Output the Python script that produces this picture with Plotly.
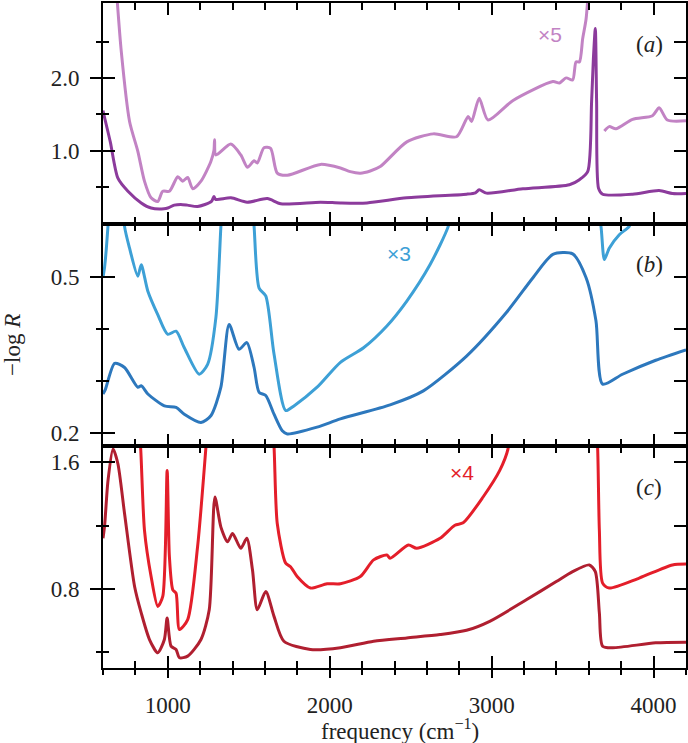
import plotly.graph_objects as go

# ---------------- data (values as displayed on each panel) ----------------
freq_major = [1000, 2000, 3000, 4000]
freq_minor = [600, 800, 1200, 1400, 1600, 1800, 2200, 2400, 2600, 2800,
              3200, 3400, 3600, 3800, 4200]

# panel (a)
a_base_f = [600, 608, 645, 692, 754, 836, 897, 977, 1000, 1040, 1080, 1121, 1184, 1270, 1285, 1295,
            1390, 1490, 1615, 1697, 1943, 2066, 2230, 2476, 2845, 2900, 2923, 2968, 3193,
            3480, 3542, 3593, 3617, 3628, 3640, 3648, 3660, 3685, 3870, 4034, 4116, 4200]
a_base_v = [1.55, 1.47, 1.12, 0.62, 0.44, 0.28, 0.21, 0.20, 0.21, 0.25, 0.26, 0.25, 0.23, 0.30, 0.37, 0.33,
            0.35, 0.29, 0.34, 0.27, 0.29, 0.28, 0.28, 0.35, 0.40, 0.42, 0.46, 0.415, 0.475,
            0.53, 0.60, 0.71, 1.67, 2.26, 2.68, 1.67, 0.48, 0.40, 0.40, 0.45, 0.41, 0.41]

a_x5_f = [680, 713, 764, 815, 856, 897, 938, 969, 1010, 1062, 1092, 1123, 1154, 1205, 1266, 1285,
          1289, 1297, 1389, 1451, 1492, 1533, 1553, 1594, 1635, 1676, 1738, 1943, 2066, 2127,
          2189, 2250, 2312, 2476, 2640, 2783, 2855, 2876, 2923, 2978, 3132, 3378, 3419, 3460,
          3500, 3521, 3542, 3562, 3583, 3600, None, 3696, 3726, 3767, 3870, 3993, 4034, 4085, 4200]
a_x5_v = [3.3, 2.36, 1.40, 0.99, 0.58, 0.35, 0.30, 0.44, 0.44, 0.64, 0.58, 0.63, 0.475, 0.58, 0.85, 1.0,
          1.15, 0.94, 1.09, 0.94, 0.77, 0.86, 0.83, 1.04, 1.03, 0.69, 0.66, 0.81, 0.76, 0.71,
          0.69, 0.72, 0.78, 1.12, 1.23, 1.19, 1.47, 1.40, 1.72, 1.42, 1.69, 1.95, 1.93, 2.00,
          1.97, 2.22, 2.22, 2.54, 2.81, 3.3, None, 1.27, 1.33, 1.30, 1.43, 1.48, 1.59, 1.42, 1.41]

# panel (b)
b_base_f = [600, 615, 672, 733, 815, 836, 877, 979, 1051, 1102, 1205, 1266, 1328, 1379, 1440, 1488,
            1533, 1564, 1605, 1656, 1707, 1738, 1922, 2066, 2373, 2578, 2845, 3091, 3255, 3378,
            3500, 3583, 3644, 3685, 3808, 4013, 4200]
b_base_v = [0.275, 0.284, 0.334, 0.326, 0.288, 0.291, 0.275, 0.252, 0.249, 0.236, 0.220, 0.233, 0.288,
            0.409, 0.361, 0.374, 0.326, 0.278, 0.272, 0.236, 0.204, 0.198, 0.211, 0.227, 0.254,
            0.281, 0.348, 0.432, 0.499, 0.544, 0.545, 0.499, 0.416, 0.294, 0.313, 0.340, 0.360]

b_x3_f = [600, 610, 631, 645, 720, 733, 764, 815, 836, 877, 938, 1000, 1051, 1102, 1194, 1246, 1297,
          1328, 1345, 1515, 1533, 1564, 1605, 1656, 1728, 1779, 1922, 2066, 2209, 2353, 2476,
          2619, 2732, 2760, 3650, 3675, 3696, 3726, 3788, 3849, 3870]
b_x3_v = [0.50, 0.52, 0.60, 0.68, 0.68, 0.598, 0.556, 0.502, 0.524, 0.473, 0.428, 0.390, 0.396,
          0.364, 0.313, 0.332, 0.422, 0.598, 0.68, 0.68, 0.598, 0.479, 0.464, 0.352, 0.243, 0.252,
          0.288, 0.336, 0.364, 0.406, 0.454, 0.524, 0.598, 0.64, 0.64, 0.598, 0.534, 0.556, 0.582,
          0.598, 0.62]

# panel (c)
c_base_f = [600, 610, 631, 662, 692, 733, 795, 836, 887, 938, 979, 996, 1020, 1051, 1072, 1123, 1205,
            1256, 1291, 1328, 1369, 1400, 1451, 1488, 1523, 1553, 1605, 1656, 1717, 1881, 2066,
            2271, 2476, 2681, 2845, 2988, 3214, 3399, 3500, 3603, 3640, 3665, 3685, 3747, 4013, 4200]
c_base_v = [1.12, 1.20, 1.485, 1.684, 1.59, 1.276, 0.815, 0.648, 0.48, 0.396, 0.48, 0.616, 0.438,
            0.417, 0.365, 0.375, 0.48, 0.668, 1.38, 1.19, 1.097, 1.15, 1.056, 1.12, 0.92, 0.668,
            0.783, 0.626, 0.469, 0.417, 0.428, 0.469, 0.49, 0.511, 0.538, 0.595, 0.731, 0.846,
            0.909, 0.951, 0.909, 0.648, 0.438, 0.428, 0.459, 0.463]

c_x4_f = [815, 832, 856, 897, 938, 969, 996, 1010, 1031, 1051, 1072, 1123, 1184, 1236, 1250, 1640,
          1656, 1676, 1728, 1758, 1799, 1881, 1984, 2066, 2189, 2271, 2353, 2373, 2486, 2537,
          2681, 2773, 2824, 2947, 3050, 3101, 3120, 3640, 3654, 3665, 3685, 3726, 3911, 4116, 4200]
c_x4_v = [1.9, 1.70, 1.171, 0.878, 0.689, 0.752, 1.548, 1.003, 0.794, 0.773, 0.543, 0.606, 1.066,
          1.70, 1.9, 1.9, 1.70, 1.213, 0.962, 0.94, 0.878, 0.805, 0.832, 0.832, 0.878, 0.983,
          1.014, 0.993, 1.077, 1.056, 1.119, 1.202, 1.217, 1.38, 1.548, 1.684, 1.9, 1.9, 1.70,
          1.171, 0.836, 0.805, 0.868, 0.951, 0.957]

a_major, a_minor = [1.0, 2.0], [0.5, 1.5, 2.5]
b_major, b_minor = [0.2, 0.5], [0.3, 0.4]
c_major, c_minor = [0.8, 1.6], [0.4, 1.2]

# ---------------- styling ----------------
C_A1, C_A2 = "#8C3B9C", "#C283C4"
C_B1, C_B2 = "#2D78BD", "#3DA0D6"
C_C1, C_C2 = "#B01F30", "#E41E2A"
SERIF = "Liberation Serif, DejaVu Serif, serif"
SANS = "Liberation Sans, Arial, sans-serif"
FS = 23
CLEAR = "rgba(0,0,0,0)"
TXT = "#222"

fig = go.Figure()


def line(x, y, color, xa, ya):
    fig.add_trace(go.Scatter(x=x, y=y, mode="lines",
                             line=dict(color=color, width=3, shape="spline", smoothing=0.7),
                             xaxis=xa, yaxis=ya, showlegend=False, hoverinfo="skip",
                             connectgaps=False))


def dummy(xa, ya):
    fig.add_trace(go.Scatter(x=[None], y=[None], mode="lines", xaxis=xa, yaxis=ya,
                             showlegend=False, hoverinfo="skip"))


# panel c on x/y, panel b on x2/y2, panel a on x3/y3
line(c_base_f, c_base_v, C_C1, "x", "y")
line(c_x4_f, c_x4_v, C_C2, "x", "y")
line(b_base_f, b_base_v, C_B1, "x2", "y2")
line(b_x3_f, b_x3_v, C_B2, "x2", "y2")
line(a_base_f, a_base_v, C_A1, "x3", "y3")
line(a_x5_f, a_x5_v, C_A2, "x3", "y3")

XR = [600, 4200]
RA, RB, RC = [-0.014, 3.03], [0.174, 0.602], [0.30, 1.70]
DA, DB, DC = [0.6672, 1.0], [0.3333, 0.6672], [0.0, 0.3333]


def mticks(vals, side, ln):
    return dict(tickvals=vals, ticks=side, ticklen=ln, tickwidth=2, tickcolor="black",
                showgrid=False)


def xax(anchor):
    return dict(range=XR, anchor=anchor, domain=[0, 1], showline=True, linecolor="black",
                linewidth=2, ticks="inside", ticklen=12, tickwidth=2, tickcolor="black",
                tickvals=freq_major, showticklabels=False, mirror="ticks", showgrid=False,
                zeroline=False, minor=mticks(freq_minor, "inside", 7))


def ylabels(dom, rng, major, anchor):
    # main axis: frame line + tick labels (spaced by a transparent tick)
    return dict(domain=dom, range=rng, anchor=anchor, showline=True, linecolor="black",
                linewidth=2, ticks="outside", ticklen=17, tickwidth=2, tickcolor=CLEAR,
                tickvals=major, ticktext=[f"{v:.1f}" for v in major],
                tickfont=dict(family=SERIF, size=FS, color=TXT),
                showgrid=False, zeroline=False)


def ytick(base, anchor, rng, major, minor, side):
    return dict(overlaying=base, anchor=anchor, side="left", range=rng, showline=False,
                ticks=side, ticklen=12, tickwidth=2, tickcolor="black", tickvals=major,
                showticklabels=False, showgrid=False, zeroline=False,
                minor=mticks(minor, side, 6))


def yright(base, anchor, rng, major, minor):
    return dict(overlaying=base, anchor=anchor, side="right", range=rng, showline=True,
                linecolor="black", linewidth=2, ticks="inside", ticklen=12, tickwidth=2,
                tickcolor="black", tickvals=sorted(major + minor), showticklabels=False,
                showgrid=False, zeroline=False)


layout_axes = {
    "xaxis": xax("y"), "xaxis2": xax("y2"), "xaxis3": xax("y3"),
    # bottom: visible outside ticks
    "xaxis4": dict(overlaying="x", anchor="y", side="bottom", range=XR, showline=False,
                   ticks="outside", ticklen=9, tickwidth=2, tickcolor="black",
                   tickvals=freq_major, showticklabels=False, showgrid=False, zeroline=False,
                   minor=mticks(freq_minor, "outside", 6)),
    # bottom: tick labels
    "xaxis5": dict(overlaying="x", anchor="y", side="bottom", range=XR, showline=False,
                   ticks="outside", ticklen=16, tickwidth=2, tickcolor=CLEAR,
                   tickvals=freq_major, ticktext=[str(v) for v in freq_major],
                   tickfont=dict(family=SERIF, size=FS, color=TXT),
                   showgrid=False, zeroline=False),
    "yaxis": ylabels(DC, RC, c_major, "x"),
    "yaxis2": ylabels(DB, RB, b_major, "x2"),
    "yaxis3": ylabels(DA, RA, a_major, "x3"),
}
dummy("x4", "y")
dummy("x5", "y")

n = 4
for base, xa, rng, major, minor in [("y", "x", RC, c_major, c_minor),
                                    ("y2", "x2", RB, b_major, b_minor),
                                    ("y3", "x3", RA, a_major, a_minor)]:
    for kind in ("outside", "inside", "right"):
        name = f"y{n}"
        if kind == "right":
            layout_axes[f"yaxis{n}"] = yright(base, xa, rng, major, minor)
        else:
            layout_axes[f"yaxis{n}"] = ytick(base, xa, rng, major, minor, kind)
        dummy(xa, name)
        n += 1

W, H = 688, 743
L, R, T, B = 103, 2, 1, 75
PW, PH = W - L - R, H - T - B


def px(xp):
    return (xp - L) / PW


def py(yp):
    return (H - B - yp) / PH


ann = []
for txt, yp in [("(<i>a</i>)", 43), ("(<i>b</i>)", 263), ("(<i>c</i>)", 487)]:
    ann.append(dict(text=txt, x=px(649), y=py(yp), xref="paper", yref="paper",
                    showarrow=False, font=dict(family=SERIF, size=FS, color=TXT),
                    xanchor="center", yanchor="middle"))
for txt, xp, yp, col in [("×5", 550, 33, C_A2), ("×3", 399, 252, C_B2), ("×4", 462, 472, C_C2)]:
    ann.append(dict(text=txt, x=px(xp), y=py(yp), xref="paper", yref="paper",
                    showarrow=False, font=dict(family=SANS, size=21, color=col),
                    xanchor="center", yanchor="middle"))
ann.append(dict(text="−log <i>R</i>", x=px(13), y=py(344), xref="paper", yref="paper",
                showarrow=False, textangle=-90, font=dict(family=SERIF, size=FS, color=TXT),
                xanchor="center", yanchor="middle"))
ann.append(dict(text="frequency (cm<sup>−1</sup>)", x=px(400), y=py(730), xref="paper",
                yref="paper", showarrow=False, font=dict(family=SERIF, size=FS, color=TXT),
                xanchor="center", yanchor="middle"))

fig.update_layout(
    width=W, height=H, margin=dict(l=L, r=R, t=T, b=B),
    paper_bgcolor="white", plot_bgcolor="white", showlegend=False,
    font=dict(family=SERIF, size=FS, color=TXT),
    annotations=ann, **layout_axes,
)

fig.write_html("out.html", config={"displayModeBar": False},
               post_script="document.body.style.margin='0';")
